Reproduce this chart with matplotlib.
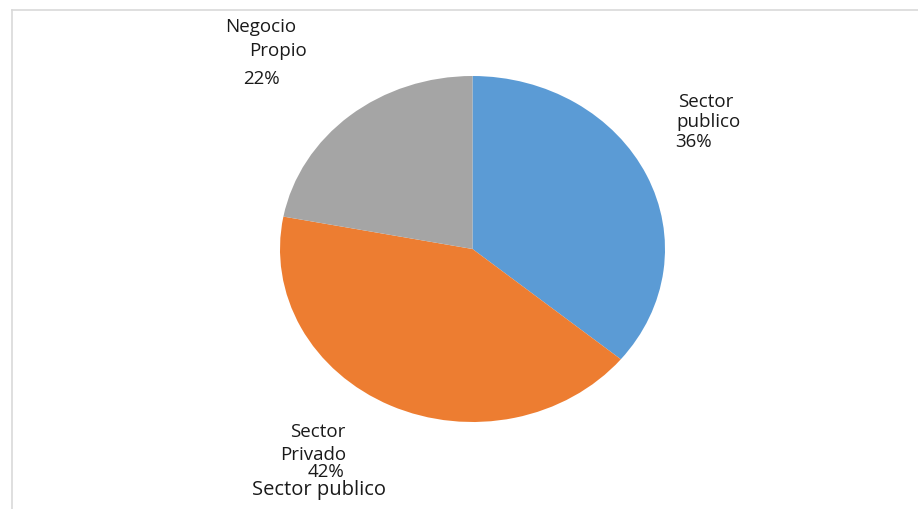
import matplotlib.pyplot as plt
from matplotlib.lines import Line2D

# Share of respondents by employment sector
sectors = ["Sector publico", "Sector Privado", "Negocio Propio"]
shares = [36, 42, 22]
colors = ["#5B9BD5", "#ED7D31", "#A5A5A5"]

W, H = 918, 509
fig = plt.figure(figsize=(W / 100, H / 100), dpi=100)
plt.rcParams["font.family"] = ["Open Sans", "DejaVu Sans"]


def px(x, y):
    # pixel position (from top-left) -> figure fraction
    return x / W, 1 - y / H


# pie stretched slightly wider than tall
cx, cy, rx, ry = 472.5, 249, 192.5, 173
ax = fig.add_axes([(cx - rx) / W, 1 - (cy + ry) / H, 2 * rx / W, 2 * ry / H])
ax.pie(shares, colors=colors, startangle=90, counterclock=False,
       wedgeprops=dict(linewidth=0))
ax.set_aspect("auto")
ax.set_xlim(-1, 1)
ax.set_ylim(-1, 1)
ax.axis("off")

# data labels, one text per line
fs = 13.5
pub, priv, neg = shares
lines = [
    ("Negocio", 225, 27), ("Propio", 249, 51), (f"{neg}%", 243, 79),
    ("Sector", 678, 102), ("publico", 676, 122), (f"{pub}%", 675, 142),
    ("Sector", 290, 432), ("Privado", 280, 455), (f"{priv}%", 308, 472),
]
for txt, x, y in lines:
    fig.text(*px(x, y), txt, fontsize=fs, ha="left", va="center",
             color="#1a1a1a")
fig.text(*px(252, 490), "Sector publico", fontsize=14.5, ha="left",
         va="center", color="#1a1a1a")

# chart area border (top and left edges)
fig.add_artist(Line2D([11.5 / W, 1], [1 - 9.5 / H, 1 - 9.5 / H],
                      transform=fig.transFigure, color="#d9d9d9", lw=1.2))
fig.add_artist(Line2D([11.5 / W, 11.5 / W], [1 - 9.5 / H, 0],
                      transform=fig.transFigure, color="#d9d9d9", lw=1.2))

fig.savefig("out.png", dpi=100, facecolor="white")
